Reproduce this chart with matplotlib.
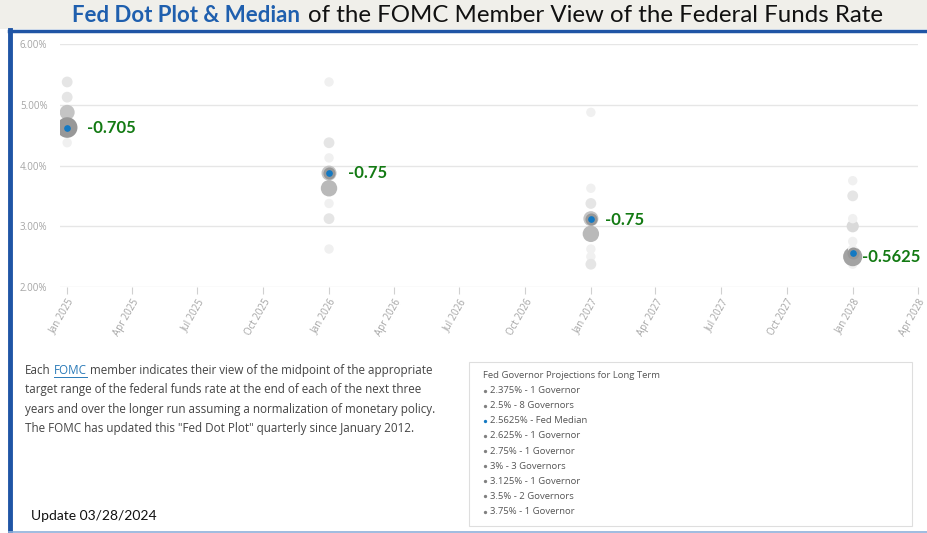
import datetime
import matplotlib
matplotlib.use("Agg")
from matplotlib import pyplot as plt
from matplotlib import dates as mdates
from matplotlib.lines import Line2D
from matplotlib.patches import Rectangle
from matplotlib.ticker import FuncFormatter

# Fed projections, plotted at the January following each year-end
periods = ["2025-01-01", "2026-01-01", "2027-01-01", "2028-01-01"]
rates_2024 = [5.375, 5.125, 4.875, 4.625, 4.375]
counts_2024 = [2, 2, 5, 9, 1]
rates_2025 = [5.375, 4.375, 4.125, 3.875, 3.625, 3.375, 3.125, 2.625]
counts_2025 = [1, 2, 1, 5, 6, 1, 2, 1]
rates_2026 = [4.875, 3.625, 3.375, 3.125, 2.875, 2.625, 2.5, 2.375]
counts_2026 = [1, 1, 2, 5, 6, 1, 1, 2]
rates_long = [2.375, 2.5, 2.625, 2.75, 3.0, 3.125, 3.5, 3.75]
counts_long = [1, 8, 1, 1, 3, 1, 2, 1]
medians = [4.625, 3.875, 3.125, 2.5625]
median_labels = ["-0.705", "-0.75", "-0.75", "-0.5625"]
y_ticks = [2, 3, 4, 5, 6]

description = [
    "member indicates their view of the midpoint of the appropriate",
    "target range of the federal funds rate at the end of each of the next three",
    "years and over the longer run assuming a normalization of monetary policy.",
    "The FOMC has updated this \"Fed Dot Plot\" quarterly since January 2012.",
]
legend_title = "Fed Governor Projections for Long Term"
update_text = "Update 03/28/2024"

BLUE = "#1479c2"
GREEN = "#137a13"
W, H = 928, 533


def fx(px):
    return px / W


def fy(py):
    return 1 - py / H


def dot_size(c):
    r = 4 + 0.7 * c  # radius in px
    return (2 * r * 72 / 100) ** 2


def dot_color(c):
    g = max(0, 240 - 11 * (c - 1)) / 255
    return (g, g, g)


fig = plt.figure(figsize=(W / 100, H / 100), dpi=100)
rend = fig.canvas.get_renderer()

# header band and panel borders
fig.patches.append(Rectangle((0, fy(29)), 1, 29 / H, transform=fig.transFigure,
                             facecolor="#f0efea", edgecolor="none", zorder=0))
fig.lines.append(Line2D([fx(9), 1], [fy(30.5), fy(30.5)], transform=fig.transFigure,
                        color="#1f55a5", lw=2.5))
fig.lines.append(Line2D([fx(10), fx(10)], [fy(30), 0], transform=fig.transFigure,
                        color="#1f55a5", lw=3.5))
fig.lines.append(Line2D([fx(9), 1], [fy(531.5), fy(531.5)], transform=fig.transFigure,
                        color="#8fb0da", lw=1.2))

# title in two parts
t1 = fig.text(fx(72), fy(16), "Fed Dot Plot & Median", family="Lato", weight="bold",
              fontsize=16, color="#1f5fae", va="center")
w1 = t1.get_window_extent(rend).width
fig.text(fx(72 + w1 + 8), fy(16), "of the FOMC Member View of the Federal Funds Rate",
         family="Lato", fontsize=17.3, color="#111111", va="center")

# dot plot
ax = fig.add_axes([fx(60), fy(287), fx(918 - 60), (287 - 44) / H])
dates = [datetime.datetime.strptime(p, "%Y-%m-%d") for p in periods]
columns = [(rates_2024, counts_2024), (rates_2025, counts_2025),
           (rates_2026, counts_2026), (rates_long, counts_long)]
for d, (rates, counts) in zip(dates, columns):
    ax.scatter([d] * len(rates), rates, s=[dot_size(c) for c in counts],
               c=[dot_color(c) for c in counts], edgecolors="none", zorder=3)
ax.scatter(dates, medians, s=dot_size(1.0), color=BLUE, edgecolors="#989898",
           linewidths=1.9, zorder=4)

label_dx = [14, 14, 10, 7]
label_dy = [0, 0, -1, -3]
for d, m, lab, dx, dy in zip(dates, medians, median_labels, label_dx, label_dy):
    ax.annotate(lab, (d, m), xytext=(dx, dy), textcoords="offset points",
                family="Lato", weight="bold", fontsize=12, color=GREEN,
                va="center", ha="left", zorder=5)

ax.set_ylim(2, 6)
ax.set_xlim(datetime.datetime(2024, 12, 22), datetime.datetime(2028, 4, 1))
ax.set_yticks(y_ticks)
ax.yaxis.set_major_formatter(FuncFormatter(lambda v, p: f"{v:.2f}%"))
ax.xaxis.set_major_locator(mdates.MonthLocator(bymonth=[1, 4, 7, 10]))
ax.xaxis.set_major_formatter(mdates.DateFormatter("%b %Y"))
ax.grid(axis="y", color="#e6e6e6", lw=1)
ax.set_axisbelow(True)
for s in ax.spines.values():
    s.set_visible(False)
ax.tick_params(axis="y", length=0, pad=9, labelsize=7, labelcolor="#a5a5a5")
ax.tick_params(axis="x", length=5, width=0.8, color="#d0d0d0", pad=2,
               labelsize=7, labelcolor="#a5a5a5")
for lbl in ax.get_xticklabels():
    lbl.set_rotation(60)
    lbl.set_ha("right")
    lbl.set_rotation_mode("anchor")
for lbl in ax.get_yticklabels() + ax.get_xticklabels():
    lbl.set_family("Open Sans")

# explanatory paragraph with FOMC link
para_kw = dict(family="Open Sans", fontsize=8.4, color="#444444", va="center")
x0, y0, step = 25, 370.5, 19.4
p1 = fig.text(fx(x0), fy(y0), "Each", **para_kw)
wa = p1.get_window_extent(rend).width
sp = fig.text(0, 0, "a a", **para_kw)
sp_w = sp.get_window_extent(rend).width
sp.set_text("aa")
sp_w -= sp.get_window_extent(rend).width
sp.remove()
link = fig.text(fx(x0 + wa + sp_w), fy(y0), "FOMC", **{**para_kw, "color": "#2a7ab8"})
lb = link.get_window_extent(rend)
fig.lines.append(Line2D([fx(lb.x0), fx(lb.x1)], [fy(y0 + 6.5), fy(y0 + 6.5)],
                        transform=fig.transFigure, color="#2a7ab8", lw=0.7))
fig.text(fx(lb.x1 + sp_w), fy(y0), description[0], **para_kw)
for i, line in enumerate(description[1:], start=1):
    fig.text(fx(x0), fy(y0 + i * step), line, **para_kw)

fig.text(fx(31), fy(516), update_text, family="Lato", fontsize=10, color="#111111",
         va="center")

# long-run legend box
fig.patches.append(Rectangle((fx(469), fy(526)), fx(912 - 469), (526 - 362) / H,
                             transform=fig.transFigure, facecolor="white",
                             edgecolor="#dedede", lw=0.8))
leg_kw = dict(family="Open Sans", fontsize=6.8, color="#555555", va="center")
fig.text(fx(483), fy(375), legend_title, **leg_kw)
entries = [(r, f"{r:g}% - {c} Governor" + ("s" if c > 1 else ""), "#808080")
           for r, c in zip(rates_long, counts_long)]
entries.append((medians[-1], f"{medians[-1]:g}% - Fed Median", BLUE))
entries.sort(key=lambda e: e[0])
for i, (_, txt, col) in enumerate(entries):
    yy = 390.7 + i * 15.1
    fig.lines.append(Line2D([fx(485)], [fy(yy)], transform=fig.transFigure,
                            marker="o", ms=2.4, color=col, mec="none", ls="none"))
    fig.text(fx(490), fy(yy), txt, **leg_kw)

fig.savefig("out.png", dpi=100)
